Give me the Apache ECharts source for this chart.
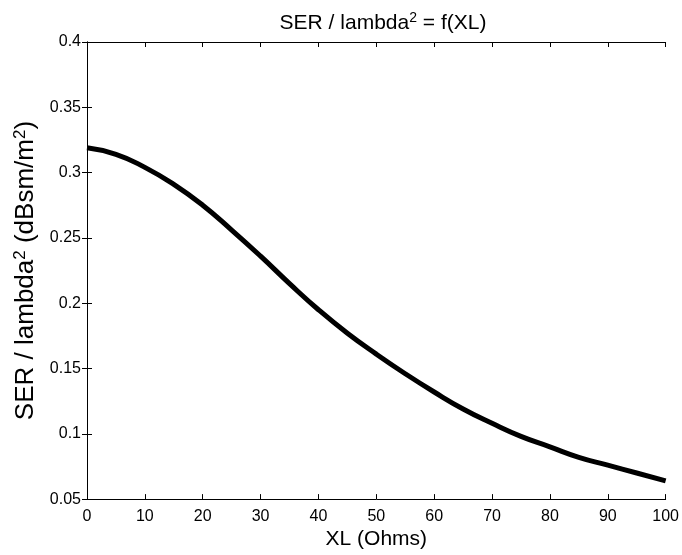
<!DOCTYPE html>
<html>
<head>
<meta charset="utf-8">
<script src="https://cdn.jsdelivr.net/npm/echarts@6/dist/echarts.min.js"></script>
<style>html,body{margin:0;padding:0;background:#fff;}#c{width:682px;height:555px;}</style>
</head>
<body>
<div id="c"></div>
<script>
var xlValues = [0, 5, 10, 15, 20, 25, 30, 35, 40, 45, 50, 55, 60, 65, 70, 75, 80, 85, 90, 95, 100];
var serValues = [0.319, 0.314, 0.304, 0.291, 0.275, 0.256, 0.236, 0.215, 0.195, 0.177, 0.161, 0.146, 0.132, 0.119, 0.108, 0.098, 0.090, 0.082, 0.076, 0.070, 0.064];
var xTicks = [0, 10, 20, 30, 40, 50, 60, 70, 80, 90, 100];
var yTicks = [0.05, 0.1, 0.15, 0.2, 0.25, 0.3, 0.35, 0.4];

var FONT = 'Liberation Sans, Arial, sans-serif';
var data = xlValues.map(function (x, i) { return [x, serValues[i]]; });

var chart = echarts.init(document.getElementById('c'), null, { renderer: 'canvas' });
var baseAxisLine = { show: true, lineStyle: { color: '#000', width: 1 } };
var tick = { show: true, inside: true, length: 5, lineStyle: { color: '#000', width: 1 } };
chart.setOption({
  animation: false,
  backgroundColor: '#fff',
  title: {
    text: 'SER / lambda{s|2} = f(XL)',
    left: 378, top: 6, textAlign: 'center',
    textStyle: {
      fontFamily: FONT, fontSize: 21, fontWeight: 'normal', color: '#000',
      rich: { s: { fontSize: 14, verticalAlign: 'top', padding: [0, 0, 10, 0], color: '#000', fontFamily: FONT } }
    }
  },
  grid: { left: 87, right: 15, top: 42, bottom: 55 },
  xAxis: [{
    type: 'value', min: 0, max: 100, interval: 10,
    name: 'XL (Ohms)', nameLocation: 'middle', nameGap: 29,
    nameTextStyle: { fontFamily: FONT, fontSize: 21, color: '#000' },
    axisLine: baseAxisLine, axisTick: tick,
    axisLabel: { fontFamily: FONT, fontSize: 16, color: '#000', margin: 9 },
    splitLine: { show: false }
  }, {
    type: 'value', min: 0, max: 100, interval: 10, position: 'top',
    axisLine: baseAxisLine, axisTick: tick, axisLabel: { show: false }, splitLine: { show: false }
  }],
  yAxis: [{
    type: 'value', min: 0.05, max: 0.4, interval: 0.05,
    name: 'SER / lambda{s|2} (dBsm/m{s|2})', nameLocation: 'middle', nameGap: 41, nameRotate: 90,
    nameTextStyle: {
      fontFamily: FONT, fontSize: 26, color: '#000',
      rich: { s: { fontSize: 17, verticalAlign: 'top', padding: [0, 0, 12, 0], color: '#000', fontFamily: FONT } }
    },
    axisLine: baseAxisLine, axisTick: tick,
    axisLabel: {
      fontFamily: FONT, fontSize: 16, color: '#000', margin: 6,
      formatter: function (v) { return String(parseFloat(v.toFixed(2))); }
    },
    splitLine: { show: false }
  }, {
    type: 'value', min: 0.05, max: 0.4, interval: 0.05, position: 'right',
    axisLine: baseAxisLine, axisTick: tick, axisLabel: { show: false }, splitLine: { show: false }
  }],
  series: [{
    type: 'line', data: data, smooth: true, showSymbol: false,
    lineStyle: { color: '#000', width: 5 }, itemStyle: { color: '#000' }
  }]
});
</script>
</body>
</html>
